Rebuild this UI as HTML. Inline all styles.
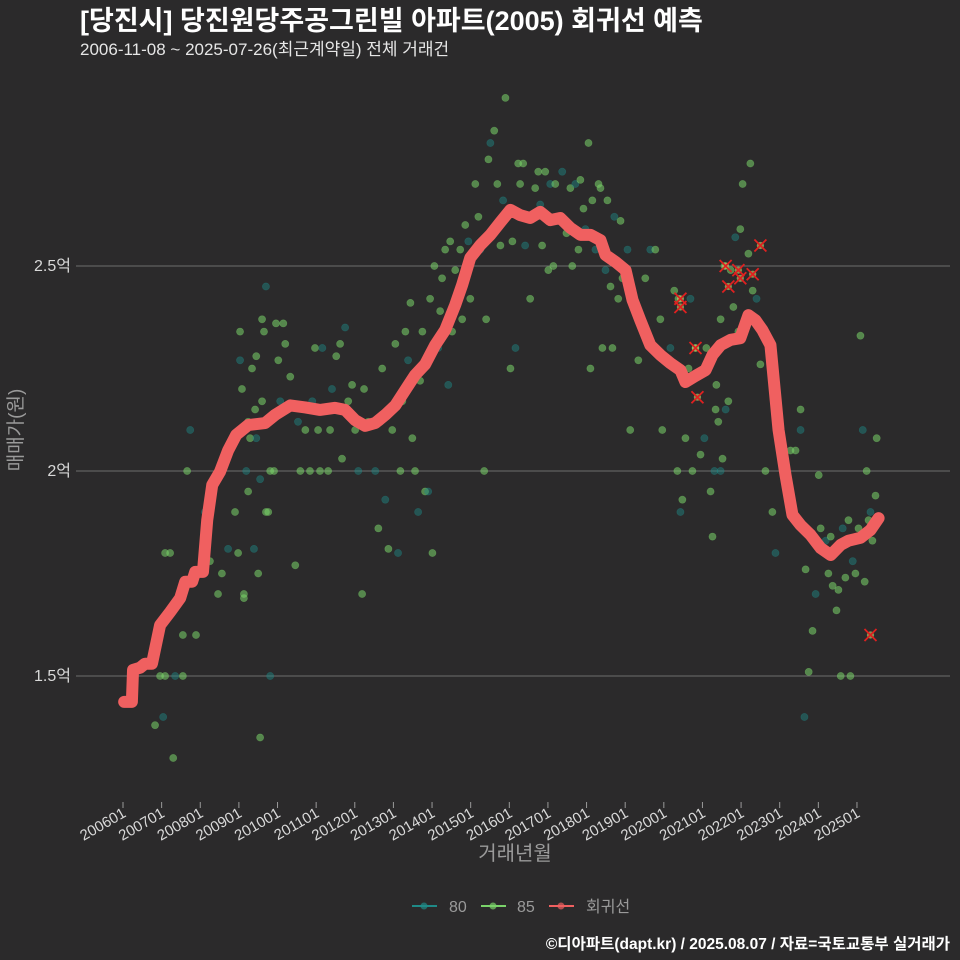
<!DOCTYPE html>
<html><head><meta charset="utf-8">
<style>
html,body{margin:0;padding:0;background:#2b2a2b;}
body{width:960px;height:960px;overflow:hidden;font-family:"Liberation Sans","Noto Sans CJK KR",sans-serif;}
svg{display:block;}
</style></head>
<body>
<svg id="chart" width="960" height="960" xmlns="http://www.w3.org/2000/svg" style="font-family:'Liberation Sans','Noto Sans CJK KR',sans-serif">
<rect width="960" height="960" fill="#2b2a2b"/>
<text x="80" y="30" fill="#ffffff" font-size="27" font-weight="bold">[당진시] 당진원당주공그린빌 아파트(2005) 회귀선 예측</text>
<text x="80" y="55" fill="#e6e6e6" font-size="17">2006-11-08 ~ 2025-07-26(최근계약일) 전체 거래건</text>
<g id="grid"></g>
<g id="yticks"></g>
<g id="xticks"></g>
<g id="points"></g>
<g id="line"></g>
<g id="cancels"></g>
<text transform="translate(22,430) rotate(-90)" text-anchor="middle" fill="#9a9a9a" font-size="19">매매가(원)</text>
<text x="515" y="860" text-anchor="middle" fill="#9a9a9a" font-size="20">거래년월</text>
<g>
<g><line x1="412" y1="906" x2="437" y2="906" stroke="#1f8a87" stroke-width="2"/><circle cx="424" cy="906" r="3.5" fill="#1f8a87" opacity="0.7"/><text x="449" y="912" fill="#9a9a9a" font-size="16">80</text></g>
<g><line x1="481" y1="906" x2="506" y2="906" stroke="#7ad36a" stroke-width="2"/><circle cx="493" cy="906" r="3.5" fill="#7ad36a" opacity="0.7"/><text x="517" y="912" fill="#9a9a9a" font-size="16">85</text></g>
<g><line x1="549" y1="906" x2="574" y2="906" stroke="#f06060" stroke-width="2"/><circle cx="561" cy="906" r="3.5" fill="#f06060" opacity="0.7"/><text x="586" y="912" fill="#9a9a9a" font-size="16">회귀선</text></g>
</g>
<text x="950" y="949" text-anchor="end" fill="#ffffff" font-size="15.5" font-weight="bold">©디아파트(dapt.kr) / 2025.08.07 / 자료=국토교통부 실거래가</text>
</svg>
<script>
const yTicks=[1.5,2,2.5];
const yTickLabels=["1.5억","2억","2.5억"];
const xTickYears=[2006,2007,2008,2009,2010,2011,2012,2013,2014,2015,2016,2017,2018,2019,2020,2021,2022,2023,2024,2025];
const xTickLabels=["200601","200701","200801","200901","201001","201101","201201","201301","201401","201501","201601","201701","201801","201901","202001","202101","202201","202301","202401","202501"];
const lineDates=[2006.03,2006.23,2006.26,2006.44,2006.57,2006.75,2006.96,2007.22,2007.48,2007.61,2007.79,2007.87,2008.07,2008.18,2008.31,2008.51,2008.72,2008.93,2009.24,2009.68,2009.94,2010.33,2010.72,2011.10,2011.49,2011.75,2012.01,2012.27,2012.53,2012.79,2013.05,2013.31,2013.56,2013.82,2014.08,2014.34,2014.60,2014.78,2014.99,2015.25,2015.51,2015.77,2016.03,2016.28,2016.54,2016.80,2017.06,2017.32,2017.58,2017.84,2018.10,2018.36,2018.49,2018.75,2019.01,2019.19,2019.39,2019.65,2019.91,2020.17,2020.43,2020.56,2020.82,2021.08,2021.26,2021.47,2021.73,2021.98,2022.19,2022.37,2022.55,2022.76,2022.97,2023.15,2023.33,2023.54,2023.80,2024.06,2024.32,2024.58,2024.78,2025.09,2025.35,2025.56];
const lineValues=[1.437,1.437,1.515,1.52,1.53,1.53,1.624,1.656,1.69,1.73,1.73,1.754,1.754,1.88,1.966,1.998,2.05,2.088,2.112,2.117,2.137,2.16,2.155,2.149,2.154,2.149,2.124,2.11,2.117,2.137,2.16,2.198,2.234,2.26,2.307,2.344,2.405,2.454,2.52,2.551,2.576,2.607,2.637,2.624,2.617,2.632,2.612,2.617,2.593,2.576,2.576,2.563,2.527,2.51,2.49,2.417,2.368,2.307,2.283,2.263,2.246,2.217,2.232,2.246,2.283,2.307,2.32,2.324,2.38,2.368,2.344,2.307,2.1,1.99,1.893,1.868,1.844,1.812,1.795,1.82,1.83,1.837,1.856,1.885];
const pointDates=[2006.83,2007.04,2006.96,2007.09,2007.30,2007.35,2007.55,2007.55,2007.66,2007.74,2007.89,2007.09,2007.22,
2008.12,2008.25,2008.46,2008.56,2008.72,2008.90,2008.98,2009.03,2009.03,2009.08,2009.13,2009.13,2009.19,2009.24,2009.29,2009.34,2009.39,2009.42,2009.45,2009.50,2009.55,2009.55,2009.60,2009.65,2009.70,2009.70,2009.76,2009.81,2009.81,2009.91,2009.96,2010.02,2010.07,2010.15,2010.20,2009.24,2009.45,2009.60,
2010.33,2010.46,2010.53,2010.59,2010.72,2010.84,2010.90,2010.97,2011.05,2011.10,2011.16,2011.23,2011.31,2011.36,2011.41,2011.52,2011.62,2011.67,2011.75,2011.83,2011.93,2012.01,2012.09,2012.19,2012.24,2012.35,
2012.53,2012.61,2012.66,2012.71,2012.79,2012.87,2012.97,2013.05,2013.12,2013.18,2013.23,2013.31,2013.38,2013.44,2013.49,2013.56,2013.64,2013.69,2013.75,2013.82,2013.90,2013.95,2014.01,2014.06,2014.16,2014.21,2014.26,2014.34,2014.42,2014.47,2014.52,2014.60,2014.68,2014.73,2014.78,2014.86,2014.94,2014.99,
2015.12,2015.20,2015.25,2015.35,2015.40,2015.46,2015.51,2015.61,2015.69,2015.77,2015.84,2015.90,2016.03,2016.08,2016.16,2016.23,2016.28,2016.36,2016.41,2016.54,2016.67,2016.75,2016.80,2016.85,2016.93,2017.01,2017.06,2017.14,2017.19,2017.32,2017.37,2017.48,2017.58,2017.63,2017.71,2017.79,2017.84,
2017.92,2017.97,2018.05,2018.10,2018.15,2018.23,2018.31,2018.36,2018.41,2018.49,2018.54,2018.62,2018.67,2018.72,2018.82,2018.88,2018.93,2019.06,2019.13,2019.34,2019.52,2019.65,2019.78,2019.91,2019.96,
2020.17,2020.27,2020.35,2020.38,2020.43,2020.48,2020.56,2020.64,2020.69,2020.74,2020.82,2020.95,2021.05,2021.10,2021.21,2021.26,2021.31,2021.34,2021.36,2021.41,2021.47,2021.47,2021.52,2021.57,2021.60,2021.67,2021.73,2021.80,2021.85,2021.93,2021.98,2022.04,2022.09,2022.19,2022.24,2022.30,2022.40,2022.50,2022.63,
2022.81,2022.89,2023.28,2023.41,2023.54,2023.54,2023.67,2023.75,2023.85,2023.93,2024.01,2024.06,2024.11,2024.19,2024.26,2024.32,2024.37,2024.42,2024.47,2024.52,2024.58,2024.63,2024.70,2024.78,2024.83,2024.89,2024.96,2025.04,2025.09,2025.15,2025.20,2025.25,2025.30,2025.35,2025.40,2025.48,2025.51,2023.64];
const pointValues=[1.38,1.40,1.50,1.50,1.30,1.50,1.50,1.60,2.00,2.10,1.60,1.80,1.80,
1.90,1.78,1.70,1.75,1.81,1.90,1.80,2.34,2.27,2.20,1.70,1.69,2.00,1.95,2.08,2.25,1.81,2.15,2.28,1.75,1.98,1.35,2.37,2.34,2.45,1.90,1.90,2.00,1.50,2.00,2.36,2.27,2.17,2.36,2.31,2.12,2.08,2.17,
2.23,1.77,2.12,2.00,2.10,2.00,2.17,2.30,2.10,2.00,2.30,2.15,2.00,2.10,2.20,2.28,2.31,2.03,2.35,2.17,2.21,2.10,2.00,1.70,2.20,2.12,
2.00,1.86,2.12,2.25,1.93,1.81,2.10,2.31,1.80,2.00,2.17,2.34,2.27,2.41,2.08,2.00,1.90,2.22,2.34,1.95,1.95,2.42,1.80,2.50,2.30,2.39,2.47,2.54,2.21,2.56,2.34,2.49,2.42,2.54,2.37,2.60,2.56,2.42,
2.70,2.62,2.54,2.00,2.37,2.76,2.80,2.83,2.70,2.55,2.66,2.91,2.25,2.56,2.30,2.75,2.70,2.75,2.55,2.42,2.69,2.73,2.65,2.55,2.73,2.49,2.70,2.50,2.70,2.61,2.73,2.58,2.69,2.50,2.70,2.54,2.71,
2.64,2.59,2.80,2.25,2.66,2.54,2.70,2.69,2.30,2.49,2.66,2.45,2.30,2.62,2.42,2.61,2.47,2.54,2.10,2.27,2.47,2.54,2.54,2.37,2.10,
2.30,2.44,2.00,2.42,1.90,1.93,2.08,2.25,2.42,2.00,2.30,2.04,2.08,2.30,1.95,1.84,2.00,2.15,2.21,2.12,2.00,2.37,2.03,2.50,2.15,2.17,2.49,2.40,2.57,2.34,2.59,2.70,2.34,2.53,2.75,2.44,2.42,2.26,2.00,
1.90,1.80,2.05,2.05,2.15,2.10,1.76,1.51,1.61,1.70,1.99,1.86,1.81,1.83,1.75,1.84,1.72,1.80,1.66,1.71,1.50,1.86,1.74,1.88,1.50,1.78,1.75,1.86,2.33,2.10,1.73,2.00,1.88,1.90,1.83,1.94,2.08,1.40];
const cancelDates=[2020.43,2020.43,2020.82,2020.87,2021.60,2021.67,2021.93,2021.98,2022.30,2022.50,2025.35];
const cancelValues=[2.42,2.40,2.30,2.18,2.50,2.45,2.49,2.47,2.48,2.55,1.60];

const NS="http://www.w3.org/2000/svg";
const X0=123,PXY=38.63,Y0=676,PXV=410;
function xs(t){return X0+(t-2006)*PXY;}
function ys(v){return Y0-(v-1.5)*PXV;}
function mk(tag,attrs,parent){const e=document.createElementNS(NS,tag);for(const k in attrs)e.setAttribute(k,attrs[k]);parent.appendChild(e);return e;}

const grid=document.getElementById('grid'),yt=document.getElementById('yticks');
yTicks.forEach((v,i)=>{
  const l=mk('line',{x1:76,x2:950,y1:ys(v),y2:ys(v),stroke:'#6e6e6e','stroke-width':1},grid);
  
  
  const t=mk('text',{x:71,y:ys(v)+5,'text-anchor':'end',fill:'#d9d9d9','font-size':16},yt);
  t.textContent=yTickLabels[i];
  
  
});
const xt=document.getElementById('xticks');
xTickYears.forEach((yr,i)=>{
  const x=xs(yr);
  const tk=mk('line',{x1:x,x2:x,y1:802,y2:808,stroke:'#9a9a9a','stroke-width':1},xt);
  
  
  const t=mk('text',{transform:`translate(${x+4},${816}) rotate(-30)`,'text-anchor':'end',fill:'#d9d9d9','font-size':15},xt);
  t.textContent=xTickLabels[i];
  
  
});
const pg=document.getElementById('points');
pointDates.forEach((d,i)=>{
  const is80=(i%4===1);
  const c=mk('circle',{cx:xs(d),cy:ys(pointValues[i]),r:3.6,fill:is80?'#1f8a87':'#7ad36a','fill-opacity':is80?0.45:0.55,stroke:is80?'#1f8a87':'#7ad36a','stroke-opacity':0.4,'stroke-width':0.6},pg);
  
  
});
const lg=document.getElementById('line');
const p=mk('polyline',{points:lineDates.map((d,i)=>xs(d)+','+ys(lineValues[i])).join(' '),fill:'none',stroke:'#f06060','stroke-width':12,'stroke-linejoin':'round','stroke-linecap':'round'},lg);


const cg=document.getElementById('cancels');
cancelDates.forEach((d,i)=>{
  const x=xs(d),y=ys(cancelValues[i]);
  const g=mk('g',{},cg);
  
  
  mk('circle',{cx:x,cy:y,r:3.6,fill:'#c8d86a','fill-opacity':0.6},g);
  mk('path',{d:`M${x-6},${y-6}L${x+6},${y+6}M${x-6},${y+6}L${x+6},${y-6}`,stroke:'#e02020','stroke-width':1.8},g);
});
</script>
</body></html>
